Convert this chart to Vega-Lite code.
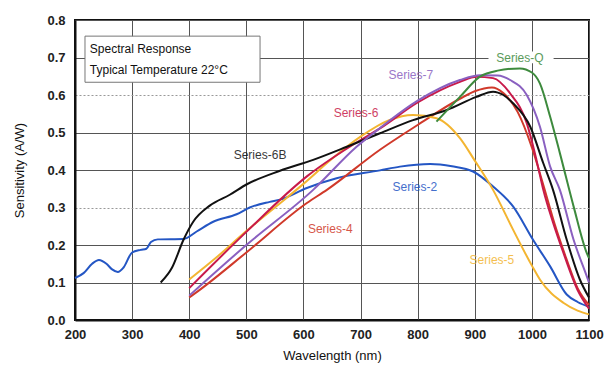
{
  "$schema": "https://vega.github.io/schema/vega-lite/v6.json",
  "width": 514,
  "height": 300,
  "autosize": "none",
  "padding": {"left": 75, "top": 20, "right": 19, "bottom": 49},
  "background": "white",
  "config": {
    "font": "Liberation Sans",
    "view": {"stroke": "#111", "strokeWidth": 2},
    "axis": {
      "labelFont": "Liberation Sans",
      "titleFont": "Liberation Sans",
      "labelFontSize": 13,
      "titleFontSize": 13,
      "labelFontWeight": "bold",
      "labelColor": "#222",
      "titleColor": "#111",
      "titleFontWeight": "normal",
      "domainColor": "#111",
      "domainWidth": 2,
      "ticks": false,
      "labelOverlap": false,
      "labelFlush": false,
      "gridColor": "#555",
      "gridWidth": 1,
      "gridOpacity": 1
    }
  },
  "datasets": {
    "curves": [
      {"s": "Series-2", "x": 200, "y": 0.112}, {"s": "Series-2", "x": 215, "y": 0.125}, {"s": "Series-2", "x": 230, "y": 0.150}, {"s": "Series-2", "x": 242, "y": 0.160}, {"s": "Series-2", "x": 255, "y": 0.150}, {"s": "Series-2", "x": 265, "y": 0.135}, {"s": "Series-2", "x": 275, "y": 0.128}, {"s": "Series-2", "x": 285, "y": 0.140}, {"s": "Series-2", "x": 300, "y": 0.180}, {"s": "Series-2", "x": 315, "y": 0.187}, {"s": "Series-2", "x": 325, "y": 0.190}, {"s": "Series-2", "x": 333, "y": 0.208}, {"s": "Series-2", "x": 345, "y": 0.215}, {"s": "Series-2", "x": 390, "y": 0.216}, {"s": "Series-2", "x": 413, "y": 0.236}, {"s": "Series-2", "x": 442, "y": 0.262}, {"s": "Series-2", "x": 483, "y": 0.282}, {"s": "Series-2", "x": 506, "y": 0.300}, {"s": "Series-2", "x": 541, "y": 0.315}, {"s": "Series-2", "x": 559, "y": 0.321}, {"s": "Series-2", "x": 606, "y": 0.352}, {"s": "Series-2", "x": 658, "y": 0.378}, {"s": "Series-2", "x": 734, "y": 0.399}, {"s": "Series-2", "x": 769, "y": 0.409}, {"s": "Series-2", "x": 822, "y": 0.416}, {"s": "Series-2", "x": 860, "y": 0.410}, {"s": "Series-2", "x": 897, "y": 0.396}, {"s": "Series-2", "x": 932, "y": 0.356}, {"s": "Series-2", "x": 967, "y": 0.303}, {"s": "Series-2", "x": 1002, "y": 0.214}, {"s": "Series-2", "x": 1032, "y": 0.143}, {"s": "Series-2", "x": 1061, "y": 0.068}, {"s": "Series-2", "x": 1080, "y": 0.048}, {"s": "Series-2", "x": 1100, "y": 0.035},

      {"s": "Series-4", "x": 400, "y": 0.060}, {"s": "Series-4", "x": 419, "y": 0.081}, {"s": "Series-4", "x": 500, "y": 0.180}, {"s": "Series-4", "x": 606, "y": 0.312}, {"s": "Series-4", "x": 641, "y": 0.347}, {"s": "Series-4", "x": 734, "y": 0.454}, {"s": "Series-4", "x": 800, "y": 0.520}, {"s": "Series-4", "x": 874, "y": 0.590}, {"s": "Series-4", "x": 900, "y": 0.610}, {"s": "Series-4", "x": 930, "y": 0.620}, {"s": "Series-4", "x": 950, "y": 0.605}, {"s": "Series-4", "x": 975, "y": 0.555}, {"s": "Series-4", "x": 1000, "y": 0.460}, {"s": "Series-4", "x": 1020, "y": 0.360}, {"s": "Series-4", "x": 1040, "y": 0.255}, {"s": "Series-4", "x": 1060, "y": 0.165}, {"s": "Series-4", "x": 1080, "y": 0.085}, {"s": "Series-4", "x": 1100, "y": 0.040},

      {"s": "Series-5", "x": 400, "y": 0.108}, {"s": "Series-5", "x": 450, "y": 0.170}, {"s": "Series-5", "x": 500, "y": 0.237}, {"s": "Series-5", "x": 550, "y": 0.300}, {"s": "Series-5", "x": 600, "y": 0.363}, {"s": "Series-5", "x": 650, "y": 0.430}, {"s": "Series-5", "x": 700, "y": 0.489}, {"s": "Series-5", "x": 750, "y": 0.533}, {"s": "Series-5", "x": 792, "y": 0.547}, {"s": "Series-5", "x": 833, "y": 0.538}, {"s": "Series-5", "x": 874, "y": 0.485}, {"s": "Series-5", "x": 900, "y": 0.425}, {"s": "Series-5", "x": 932, "y": 0.347}, {"s": "Series-5", "x": 967, "y": 0.241}, {"s": "Series-5", "x": 1000, "y": 0.145}, {"s": "Series-5", "x": 1014, "y": 0.108}, {"s": "Series-5", "x": 1055, "y": 0.046}, {"s": "Series-5", "x": 1080, "y": 0.025}, {"s": "Series-5", "x": 1100, "y": 0.015},

      {"s": "Series-6", "x": 400, "y": 0.085}, {"s": "Series-6", "x": 500, "y": 0.235}, {"s": "Series-6", "x": 606, "y": 0.383}, {"s": "Series-6", "x": 700, "y": 0.480}, {"s": "Series-6", "x": 734, "y": 0.511}, {"s": "Series-6", "x": 800, "y": 0.580}, {"s": "Series-6", "x": 874, "y": 0.635}, {"s": "Series-6", "x": 903, "y": 0.649}, {"s": "Series-6", "x": 932, "y": 0.645}, {"s": "Series-6", "x": 962, "y": 0.604}, {"s": "Series-6", "x": 991, "y": 0.525}, {"s": "Series-6", "x": 1008, "y": 0.427}, {"s": "Series-6", "x": 1020, "y": 0.347}, {"s": "Series-6", "x": 1037, "y": 0.260}, {"s": "Series-6", "x": 1055, "y": 0.180}, {"s": "Series-6", "x": 1080, "y": 0.080}, {"s": "Series-6", "x": 1100, "y": 0.030},

      {"s": "Series-6B", "x": 350, "y": 0.100}, {"s": "Series-6B", "x": 370, "y": 0.140}, {"s": "Series-6B", "x": 390, "y": 0.214}, {"s": "Series-6B", "x": 407, "y": 0.262}, {"s": "Series-6B", "x": 436, "y": 0.305}, {"s": "Series-6B", "x": 471, "y": 0.334}, {"s": "Series-6B", "x": 501, "y": 0.362}, {"s": "Series-6B", "x": 559, "y": 0.398}, {"s": "Series-6B", "x": 617, "y": 0.427}, {"s": "Series-6B", "x": 676, "y": 0.462}, {"s": "Series-6B", "x": 734, "y": 0.498}, {"s": "Series-6B", "x": 792, "y": 0.533}, {"s": "Series-6B", "x": 851, "y": 0.560}, {"s": "Series-6B", "x": 903, "y": 0.595}, {"s": "Series-6B", "x": 932, "y": 0.609}, {"s": "Series-6B", "x": 950, "y": 0.600}, {"s": "Series-6B", "x": 967, "y": 0.578}, {"s": "Series-6B", "x": 997, "y": 0.516}, {"s": "Series-6B", "x": 1020, "y": 0.418}, {"s": "Series-6B", "x": 1037, "y": 0.347}, {"s": "Series-6B", "x": 1061, "y": 0.214}, {"s": "Series-6B", "x": 1084, "y": 0.108}, {"s": "Series-6B", "x": 1100, "y": 0.060},

      {"s": "Series-7", "x": 400, "y": 0.065}, {"s": "Series-7", "x": 500, "y": 0.200}, {"s": "Series-7", "x": 617, "y": 0.347}, {"s": "Series-7", "x": 693, "y": 0.462}, {"s": "Series-7", "x": 734, "y": 0.512}, {"s": "Series-7", "x": 800, "y": 0.585}, {"s": "Series-7", "x": 874, "y": 0.640}, {"s": "Series-7", "x": 909, "y": 0.653}, {"s": "Series-7", "x": 940, "y": 0.652}, {"s": "Series-7", "x": 962, "y": 0.640}, {"s": "Series-7", "x": 991, "y": 0.600}, {"s": "Series-7", "x": 1014, "y": 0.516}, {"s": "Series-7", "x": 1032, "y": 0.409}, {"s": "Series-7", "x": 1049, "y": 0.347}, {"s": "Series-7", "x": 1073, "y": 0.214}, {"s": "Series-7", "x": 1096, "y": 0.117}, {"s": "Series-7", "x": 1100, "y": 0.100},

      {"s": "Series-Q", "x": 833, "y": 0.529}, {"s": "Series-Q", "x": 874, "y": 0.595}, {"s": "Series-Q", "x": 909, "y": 0.649}, {"s": "Series-Q", "x": 940, "y": 0.665}, {"s": "Series-Q", "x": 979, "y": 0.671}, {"s": "Series-Q", "x": 1000, "y": 0.660}, {"s": "Series-Q", "x": 1014, "y": 0.631}, {"s": "Series-Q", "x": 1032, "y": 0.542}, {"s": "Series-Q", "x": 1049, "y": 0.445}, {"s": "Series-Q", "x": 1073, "y": 0.303}, {"s": "Series-Q", "x": 1096, "y": 0.179}, {"s": "Series-Q", "x": 1100, "y": 0.165}
    ],
    "labels": [
      {"s": "Series-Q", "x": 979, "y": 0.70, "t": "Series-Q"},
      {"s": "Series-7", "x": 788, "y": 0.653, "t": "Series-7"},
      {"s": "Series-6", "x": 692, "y": 0.552, "t": "Series-6"},
      {"s": "Series-6B", "x": 524, "y": 0.440, "t": "Series-6B"},
      {"s": "Series-2", "x": 795, "y": 0.355, "t": "Series-2"},
      {"s": "Series-4", "x": 647, "y": 0.244, "t": "Series-4"},
      {"s": "Series-5", "x": 930, "y": 0.160, "t": "Series-5"}
    ],
    "box": [
      {"x": 217.5, "x2": 524, "y": 0.757, "y2": 0.634}
    ],
    "qbox": [
      {"x": 924, "x2": 1038, "y": 0.716, "y2": 0.685}
    ],
    "boxtext": [
      {"x": 226, "y": 0.722, "t": "Spectral Response"},
      {"x": 226, "y": 0.666, "t": "Typical Temperature 22°C"}
    ]
  },
  "encoding": {
    "x": {"field": "x", "type": "quantitative", "scale": {"domain": [200, 1100], "nice": false, "zero": false},
      "axis": {"title": "Wavelength (nm)", "values": [200, 300, 400, 500, 600, 700, 800, 900, 1000, 1100], "format": "d", "labelPadding": 8, "titlePadding": 8, "grid": true}},
    "y": {"field": "y", "type": "quantitative", "scale": {"domain": [0, 0.8], "nice": false, "zero": false},
      "axis": {"title": "Sensitivity (A/W)", "values": [0, 0.1, 0.2, 0.3, 0.4, 0.5, 0.6, 0.7, 0.8], "format": ".1f", "labelPadding": 10, "titlePadding": 20, "grid": true,
        "gridDash": {"condition": {"test": "datum.value == 0.3 || datum.value == 0.6", "value": [2, 2]}, "value": []},
        "gridColor": {"condition": {"test": "datum.value == 0.3 || datum.value == 0.6", "value": "#999"}, "value": "#555"}}}
  },
  "layer": [
    {
      "data": {"name": "box"},
      "mark": {"type": "rect", "fill": "white", "stroke": "#777", "strokeWidth": 1},
      "encoding": {
        "x2": {"field": "x2"},
        "y2": {"field": "y2"}
      }
    },
    {
      "data": {"name": "qbox"},
      "mark": {"type": "rect", "fill": "white"},
      "encoding": {
        "x2": {"field": "x2"},
        "y2": {"field": "y2"}
      }
    },
    {
      "data": {"name": "boxtext"},
      "mark": {"type": "text", "align": "left", "baseline": "middle", "fontSize": 12, "color": "#111"},
      "encoding": {
        "text": {"field": "t"}
      }
    },
    {
      "data": {"name": "curves"},
      "mark": {"type": "line", "interpolate": "monotone", "strokeWidth": 2},
      "encoding": {
        "color": {"field": "s", "type": "nominal", "legend": null,
          "scale": {"domain": ["Series-2", "Series-4", "Series-5", "Series-6", "Series-6B", "Series-7", "Series-Q"],
                    "range": ["#2456c4", "#d0392a", "#f3b531", "#c81a4a", "#111111", "#8a60c0", "#3d8a3d"]}}
      }
    },
    {
      "data": {"name": "labels"},
      "mark": {"type": "text", "align": "center", "baseline": "middle", "fontSize": 12, "opacity": 0.85},
      "encoding": {
        "text": {"field": "t"},
        "color": {"field": "s", "type": "nominal", "legend": null}
      }
    }
  ]
}
